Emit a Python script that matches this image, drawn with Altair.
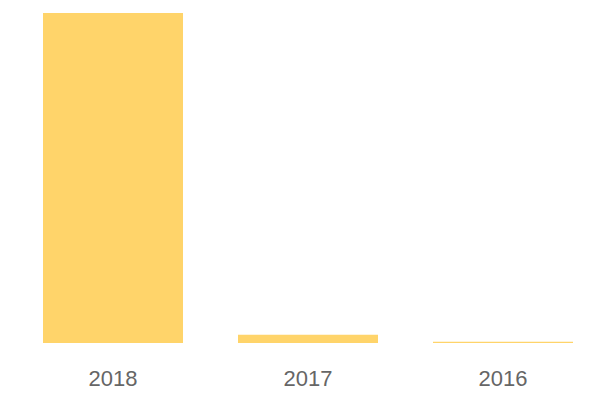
import altair as alt
import pandas as pd

years = ["2018", "2017", "2016"]
values = [1000, 25, 4]

df = pd.DataFrame({"year": years, "value": values})

chart = (
    alt.Chart(df)
    .mark_bar(color="#FFD46A")
    .encode(
        x=alt.X(
            "year:N",
            sort=years,
            scale=alt.Scale(paddingInner=0.282, paddingOuter=0),
            axis=alt.Axis(
                title=None,
                labelAngle=0,
                domain=False,
                ticks=False,
                labelFontSize=22,
                labelColor="#666666",
                labelFont="Liberation Sans",
                labelPadding=25,
                grid=False,
            ),
        ),
        y=alt.Y("value:Q", axis=None, scale=alt.Scale(nice=False, zero=True)),
    )
    .properties(
        width=530,
        height=330,
        padding={"left": 35, "top": 5, "right": 5, "bottom": 5},
    )
    .configure_view(stroke=None)
)

chart.save("out.html", embed_options={"renderer": "svg", "actions": False})
